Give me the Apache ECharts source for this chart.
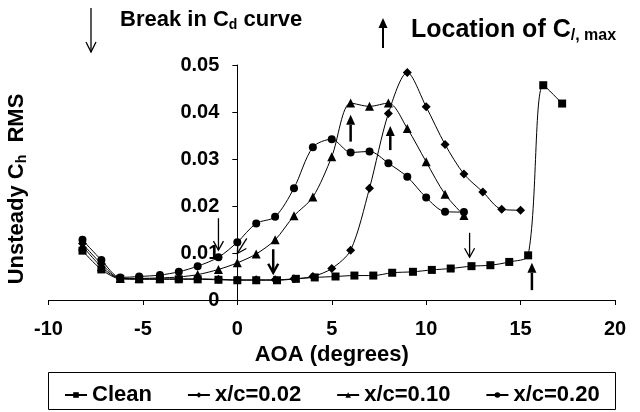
<!DOCTYPE html>
<html>
<head>
<meta charset="utf-8">
<script src="https://cdn.jsdelivr.net/npm/echarts@6/dist/echarts.min.js"></script>
<style>
  html, body { margin: 0; padding: 0; background: #fff; }
  #chart { width: 640px; height: 412px; }
</style>
</head>
<body>
<div id="chart"></div>
<script>
// Angle of attack (degrees) for each run
const aoaClean = [-8.2, -7.2, -6.2, -5.2, -4.1, -3.1, -2.1, -1.0, 0, 1.0, 2.1, 3.1, 4.1, 5.2, 6.2, 7.2, 8.2, 9.3, 10.3, 11.3, 12.4, 13.4, 14.4, 15.4, 16.2, 17.2];
const aoaIced = [-8.2, -7.2, -6.2, -5.2, -4.1, -3.1, -2.1, -1.0, 0, 1, 2, 3, 4, 5, 6, 7, 8, 9, 10, 11, 12, 13, 14, 15];

// Unsteady hinge-moment RMS
const rmsClean = [0.0105, 0.0065, 0.0045, 0.0044, 0.0044, 0.0044, 0.0044, 0.0043, 0.0042, 0.0042, 0.0042, 0.0045, 0.0048, 0.0050, 0.0052, 0.0052, 0.0058, 0.0060, 0.0064, 0.0067, 0.0072, 0.0074, 0.0081, 0.0095, 0.0457, 0.0418];
const rmsXc002 = [0.0120, 0.0077, 0.0046, 0.0045, 0.0045, 0.0045, 0.0045, 0.0044, 0.0043, 0.0043, 0.0043, 0.0045, 0.0050, 0.0067, 0.0106, 0.0238, 0.0397, 0.0484, 0.0411, 0.0331, 0.0268, 0.0230, 0.0193, 0.0191];
const rmsXc010 = [0.0115, 0.0071, 0.0046, 0.0046, 0.0047, 0.0049, 0.0054, 0.0065, 0.0079, 0.0098, 0.0128, 0.0179, 0.0219, 0.0305, 0.0419, 0.0412, 0.0419, 0.0365, 0.0294, 0.0225, 0.0180];
const rmsXc020 = [0.0128, 0.0085, 0.0048, 0.0050, 0.0053, 0.0060, 0.0072, 0.0091, 0.0123, 0.0163, 0.0177, 0.0238, 0.0325, 0.0342, 0.0314, 0.0316, 0.0291, 0.0262, 0.0218, 0.0188, 0.0187];

const seriesNames = ['Clean', 'x/c=0.02', 'x/c=0.10', 'x/c=0.20'];
const xTicks = [-10, 20, 5];
const yTicks = [0, 0.05, 0.01];

// Annotation arrows in (AOA, RMS) coordinates: [tail, tip]
const dragBreakThin = [[[-1.0, 0.0174], [-1.0, 0.0106]], [[0.5, 0.0131], [0.0, 0.0099]], [[12.3, 0.0143], [12.3, 0.0091]]];
const dragBreakBold = [[[1.9, 0.0108], [1.9, 0.0058]]];
const liftMaxArrows = [[[6.0, 0.0337], [6.0, 0.0394]], [[8.1, 0.0319], [8.1, 0.0370]], [[15.6, 0.0021], [15.6, 0.0079]]];

const FONT = '"Liberation Sans", Arial, Helvetica, sans-serif';
const W = 640, H = 412;
const GRID = { left: 48.5, right: 25, top: 65, bottom: 112 };
// the value axis crosses the AOA axis at AOA = 0
const yAxisShift = (0 - xTicks[0]) / (xTicks[1] - xTicks[0]) * (W - GRID.left - GRID.right);

const chart = echarts.init(document.getElementById('chart'), null, { renderer: 'canvas' });

function pairs(xs, ys) { return ys.map((v, i) => [xs[i], v]); }

function lineSeries(name, xs, ys, symbol, size) {
  return {
    name, type: 'line', data: pairs(xs, ys),
    symbol, symbolSize: size, smooth: 0.3,
    lineStyle: { color: '#000', width: 1 },
    itemStyle: { color: '#000', borderWidth: 0 },
    emphasis: { disabled: true },
    animation: false
  };
}

chart.setOption({
  backgroundColor: '#fff',
  animation: false,
  grid: Object.assign({ containLabel: false, outerBoundsMode: 'none' }, GRID),
  xAxis: {
    type: 'value', min: xTicks[0], max: xTicks[1], interval: xTicks[2],
    name: 'AOA (degrees)', nameLocation: 'middle', nameGap: 42,
    nameTextStyle: { fontFamily: FONT, fontWeight: 'bold', fontSize: 22, color: '#000' },
    axisLine: { onZero: false, lineStyle: { color: '#000', width: 1 } },
    axisTick: { show: true, length: 5, lineStyle: { color: '#000' } },
    axisLabel: { fontFamily: FONT, fontWeight: 'bold', fontSize: 20, color: '#000', margin: 19 },
    splitLine: { show: false }
  },
  yAxis: {
    type: 'value', min: yTicks[0], max: yTicks[1], interval: yTicks[2],
    offset: -yAxisShift,
    axisLine: { show: true, onZero: false, lineStyle: { color: '#000', width: 1 } },
    axisTick: { show: true, length: 5, lineStyle: { color: '#000' } },
    axisLabel: {
      fontFamily: FONT, fontWeight: 'bold', fontSize: 20, color: '#000', margin: 18,
      formatter: v => (v === 0 ? '0' : v.toFixed(2))
    },
    splitLine: { show: false }
  },
  legend: {
    data: seriesNames, left: 59, top: 379, itemGap: 35,
    itemWidth: 22, itemHeight: 7,
    textStyle: { fontFamily: FONT, fontWeight: 'bold', fontSize: 22, color: '#000' },
    selectedMode: false
  },
  series: [
    lineSeries(seriesNames[0], aoaClean, rmsClean, 'rect', 8),
    lineSeries(seriesNames[1], aoaIced, rmsXc002, 'diamond', 9),
    lineSeries(seriesNames[2], aoaIced, rmsXc010, 'triangle', 9),
    lineSeries(seriesNames[3], aoaIced, rmsXc020, 'circle', 8)
  ]
});

// Arrow drawing helpers (pixel space)
function arrowElements(p0, p1, opts) {
  const dx = p1[0] - p0[0], dy = p1[1] - p0[1];
  const len = Math.hypot(dx, dy);
  const ux = dx / len, uy = dy / len;
  const px = -uy, py = ux;
  const L = opts.headLen, Hh = opts.headHalf;
  const bx = p1[0] - ux * L, by = p1[1] - uy * L;
  const els = [];
  if (opts.filled) {
    els.push({ type: 'line', shape: { x1: p0[0], y1: p0[1], x2: bx, y2: by }, style: { stroke: '#000', lineWidth: opts.width } });
    els.push({ type: 'polygon', shape: { points: [[p1[0], p1[1]], [bx + px * Hh, by + py * Hh], [bx - px * Hh, by - py * Hh]] }, style: { fill: '#000' } });
  } else {
    els.push({ type: 'line', shape: { x1: p0[0], y1: p0[1], x2: p1[0], y2: p1[1] }, style: { stroke: '#000', lineWidth: opts.width } });
    els.push({ type: 'polyline', shape: { points: [[bx + px * Hh, by + py * Hh], [p1[0], p1[1]], [bx - px * Hh, by - py * Hh]] }, style: { stroke: '#000', lineWidth: opts.width, fill: null } });
  }
  return els;
}

function toPx(p) { return chart.convertToPixel({ gridIndex: 0 }, p); }

const graphics = [];
dragBreakThin.forEach(a => graphics.push(...arrowElements(toPx(a[0]), toPx(a[1]), { filled: false, width: 1.3, headLen: 9, headHalf: 5 })));
dragBreakBold.forEach(a => graphics.push(...arrowElements(toPx(a[0]), toPx(a[1]), { filled: false, width: 2.5, headLen: 9, headHalf: 5 })));
liftMaxArrows.forEach(a => graphics.push(...arrowElements(toPx(a[0]), toPx(a[1]), { filled: true, width: 2.5, headLen: 10, headHalf: 4.5 })));

// Key for the two arrow kinds
graphics.push(...arrowElements([91, 8], [91, 52], { filled: false, width: 1.3, headLen: 10, headHalf: 5 }));
graphics.push(...arrowElements([383, 48], [383, 18], { filled: true, width: 2, headLen: 10, headHalf: 4.5 }));

graphics.push({
  type: 'text', left: 120, top: 8,
  style: {
    text: '{m|Break in C}{s|d}{m| curve}',
    rich: {
      m: { fontFamily: FONT, fontWeight: 'bold', fontSize: 22, lineHeight: 24, fill: '#000' },
      s: { fontFamily: FONT, fontWeight: 'bold', fontSize: 14, lineHeight: 14, padding: [10, 0, 0, 0], fill: '#000' }
    }
  }
});
graphics.push({
  type: 'text', left: 411, top: 17,
  style: {
    text: '{m|Location of C}{s|/, max}',
    rich: {
      m: { fontFamily: FONT, fontWeight: 'bold', fontSize: 25, lineHeight: 27, fill: '#000' },
      s: { fontFamily: FONT, fontWeight: 'bold', fontSize: 16, lineHeight: 16, padding: [11, 0, 0, 0], fill: '#000' }
    }
  }
});

// Y-axis title
graphics.push({
  type: 'text', x: 17, y: 189, rotation: Math.PI / 2,
  style: {
    text: '{m|Unsteady C}{s|h}{m|  RMS}',
    align: 'center', verticalAlign: 'middle',
    rich: {
      m: { fontFamily: FONT, fontWeight: 'bold', fontSize: 22, lineHeight: 24, fill: '#000' },
      s: { fontFamily: FONT, fontWeight: 'bold', fontSize: 14, lineHeight: 14, padding: [10, 0, 0, 0], fill: '#000' }
    }
  }
});

// Legend frame
graphics.push({
  type: 'rect', shape: { x: 48.5, y: 372.5, width: 567, height: 37 },
  style: { fill: null, stroke: '#000', lineWidth: 1 }, z: 0
});

chart.setOption({ graphic: graphics });
</script>
</body>
</html>
